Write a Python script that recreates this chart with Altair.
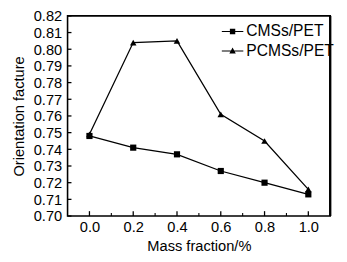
import altair as alt
import pandas as pd

mass = [0.0, 0.2, 0.4, 0.6, 0.8, 1.0]
cms = [0.748, 0.741, 0.737, 0.727, 0.720, 0.713]
pcms = [0.749, 0.804, 0.805, 0.761, 0.745, 0.716]
series_names = ["CMSs/PET", "PCMSs/PET"]
y_ticks = [round(0.70 + 0.01 * i, 2) for i in range(13)]
x_major = [0.0, 0.2, 0.4, 0.6, 0.8, 1.0]
x_minor = [0.1, 0.3, 0.5, 0.7, 0.9]

rows = []
for m, v in zip(mass, cms):
    rows.append({"mass": m, "val": v, "series": series_names[0]})
for m, v in zip(mass, pcms):
    rows.append({"mass": m, "val": v, "series": series_names[1]})
df = pd.DataFrame(rows)

W, H = 269, 205
FONT = "Liberation Sans"
TICK = "black"

xs = alt.Scale(domain=[-0.1, 1.1], nice=False, zero=False)
ys = alt.Scale(domain=[0.70, 0.82], nice=False, zero=False)
X_AX = alt.Axis(values=x_major, format=".1f", ticks=False, domain=False, grid=False,
                title="Mass fraction/%", labelPadding=4, titlePadding=4)
Y_AX = alt.Axis(values=y_ticks, format=".2f", ticks=False, domain=False, grid=False,
                title="Orientation facture", labelPadding=6, titlePadding=7)

base = alt.Chart(df)

lines = base.mark_line(color="black", strokeWidth=1.3).encode(
    x=alt.X("mass:Q", scale=xs, axis=X_AX),
    y=alt.Y("val:Q", scale=ys, axis=Y_AX),
    detail="series:N",
)

sq_pts = base.transform_filter(alt.datum.series == series_names[0]).mark_point(
    filled=True, color="black", size=40, opacity=1, shape="square").encode(
    x=alt.X("mass:Q", scale=xs, axis=X_AX), y=alt.Y("val:Q", scale=ys, axis=Y_AX))
tri_pts = base.transform_filter(alt.datum.series == series_names[1]).mark_point(
    filled=True, color="black", size=45, opacity=1, shape="triangle-up").encode(
    x=alt.X("mass:Q", scale=xs, axis=X_AX), y=alt.Y("val:Q", scale=ys, axis=Y_AX))

# inward ticks
xmaj = alt.Chart(pd.DataFrame({"mass": x_major})).mark_rule(color=TICK, strokeWidth=1.3).encode(
    x=alt.X("mass:Q", scale=xs, axis=X_AX), y=alt.value(H), y2=alt.value(H - 5))
xmin = alt.Chart(pd.DataFrame({"mass": x_minor})).mark_rule(color=TICK, strokeWidth=1.1).encode(
    x=alt.X("mass:Q", scale=xs, axis=X_AX), y=alt.value(H), y2=alt.value(H - 3))
ymaj = alt.Chart(pd.DataFrame({"val": y_ticks})).mark_rule(color=TICK, strokeWidth=1.3).encode(
    y=alt.Y("val:Q", scale=ys, axis=Y_AX), x=alt.value(0), x2=alt.value(4))

right_edge = alt.Chart(pd.DataFrame({"a": [0]})).mark_rule(color=TICK, strokeWidth=2.4).encode(
    x=alt.value(W), y=alt.value(0), y2=alt.value(H))

sq = "M-1,-0.055H1V0.055H-1Z M-0.25,-0.25H0.25V0.25H-0.25Z"
tri = "M-1,-0.055H1V0.055H-1Z M0,-0.32L0.3,0.22H-0.3Z"
legend_layer = base.mark_point(filled=True, color="black", opacity=0, size=484).encode(
    x=alt.X("mass:Q", scale=xs, axis=X_AX),
    y=alt.Y("val:Q", scale=ys, axis=Y_AX),
    shape=alt.Shape("series:N", scale=alt.Scale(domain=series_names, range=[sq, tri]),
                    legend=alt.Legend(title=None, orient="none", legendX=157, legendY=4,
                                      symbolSize=484, symbolOpacity=1, symbolFillColor="black",
                                      labelFontSize=16, labelFont=FONT, labelColor="black",
                                      labelOffset=2, rowPadding=-3, padding=0)),
)

chart = alt.layer(lines, sq_pts, tri_pts, xmaj, xmin, ymaj, right_edge, legend_layer).properties(
    width=W, height=H,
    background="white",
    autosize=alt.AutoSizeParams(type="none"),
    padding={"left": 61, "top": 5, "right": 9, "bottom": 44},
).configure_view(
    stroke="black", strokeWidth=1.6
).configure_axis(
    labelFont=FONT, labelFontSize=15, labelColor="black",
    titleFont=FONT, titleFontSize=15, titleColor="black", titleFontWeight="normal",
).configure_legend(
    labelFont=FONT, labelFontSize=16, labelColor="black",
)

chart.save("out.html", embed_options={"renderer": "svg", "actions": False})
